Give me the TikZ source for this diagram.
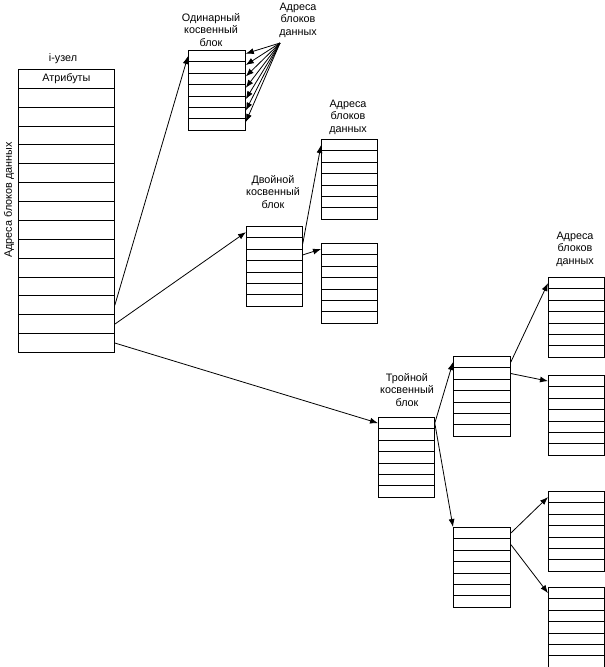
\documentclass[tikz,border=0pt]{standalone}
\usepackage{fontspec}
\setmainfont{Liberation Sans}
\usetikzlibrary{arrows.meta}
\begin{document}
\begin{tikzpicture}[x=1pt,y=-1pt,line width=0.8pt,
	cell/.style={draw,inner sep=0pt,anchor=north west,minimum height=11.4pt,minimum width=56pt},
	lbl/.style={align=center,font=\fontsize{10.8}{12.6}\selectfont},
	ptr/.style={-{Latex[length=8pt,width=6pt]}}]
	\useasboundingbox (0,0) rectangle (605,667);
	% i-node
	\node[cell,minimum width=96pt,minimum height=18.87pt,font=\fontsize{10.8}{12.6}\selectfont] (n-1) at (18,69) {Атрибуты};
	\foreach \i in {2,...,15}
		\node[cell,minimum width=96pt,minimum height=18.87pt] (n-\i) at (18,{69+18.87*(\i-1)}) {};
	\node[lbl] (inode) at (63,59) {i-узел};
	\node[lbl,rotate=90] (addr) at (9,200) {Адреса блоков данных};
	% indirect blocks
	\foreach \nm/\x/\y/\w in {s/188/50/57,d/246/226/56,dd1/321/139/56,dd2/321/243/56,t/378/417/56,t1/453/356/57,t2/453/527/57,ta/548/277/56,tb/548/375/56,tc/548/491/56,td/548/587/56}
		\foreach \i in {1,...,7}
			\node[cell,minimum width=\w] (\nm-\i) at (\x,{\y+11.4*(\i-1)}) {};
	\node[lbl] (slbl) at (211,30) {Одинарный\\косвенный\\блок};
	\node[lbl] (dat1) at (298,20) {Адреса\\блоков\\данных};
	\node[lbl] (dlbl) at (273,192) {Двойной\\косвенный\\блок};
	\node[lbl] (dat2) at (348,117) {Адреса\\блоков\\данных};
	\node[lbl] (tlbl) at (407,390) {Тройной\\косвенный\\блок};
	\node[lbl] (dat3) at (575,249) {Адреса\\блоков\\данных};
	\coordinate (apex) at (280,43);
	\foreach \i in {1,...,7}
		\draw[ptr] (apex) -- ([yshift=2.5pt]s-\i.east);
	\draw[ptr] (n-13.east) -- (s-1.west);
	\draw[ptr] (n-14.east) -- (d-1.west);
	\draw[ptr] (n-15.east) -- (t-1.west);
	\draw[ptr] (d-2.east) -- (dd1-1.west);
	\draw[ptr] (d-3.east) -- (dd2-1.west);
	\draw[ptr] (t-1.east) -- (t1-1.west);
	\draw[ptr] (t-1.east) -- (t2-1.north west);
	\draw[ptr] (t1-1.east) -- (ta-1.west);
	\draw[ptr] (t1-2.east) -- (tb-1.west);
	\draw[ptr] (t2-1.east) -- (tc-1.west);
	\draw[ptr] (t2-2.east) -- (td-1.west);
\end{tikzpicture}
\end{document}
